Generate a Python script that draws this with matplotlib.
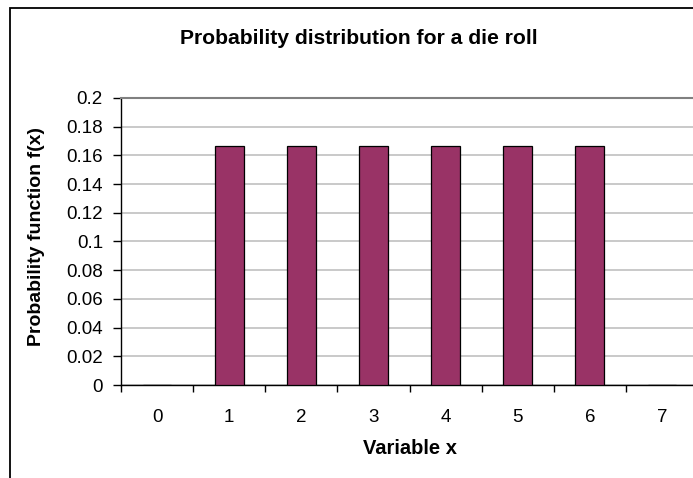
import numpy as np
from matplotlib import pyplot as plt
from matplotlib import patches

plt.rcParams['font.family'] = ['Liberation Sans', 'DejaVu Sans']

# die outcomes and their probabilities
outcomes = [0, 1, 2, 3, 4, 5, 6, 7]
probs = [0, 1/6, 1/6, 1/6, 1/6, 1/6, 1/6, 0]
yticks = [0, 0.02, 0.04, 0.06, 0.08, 0.1, 0.12, 0.14, 0.16, 0.18, 0.2]
ytick_labels = ['0', '0.02', '0.04', '0.06', '0.08', '0.1', '0.12', '0.14', '0.16', '0.18', '0.2']

W, H = 693, 478
fig = plt.figure(figsize=(W/100, H/100), dpi=100)
fig.set_facecolor('white')

# chart frame, runs off the right and bottom edges
fig.add_artist(patches.Rectangle((10/W, -0.1), 1.2, 1 - 8/H + 0.1, transform=fig.transFigure,
                                 fill=False, edgecolor='black', linewidth=1.3))

ax = fig.add_axes([121/W, 1 - 385/H, (698 - 121)/W, (385 - 98)/H])
ax.set_facecolor('white')

x = np.arange(len(outcomes))
ax.bar(x, probs, width=0.4, color='#993366', edgecolor='black', linewidth=0.9, zorder=3)

ax.set_xlim(-0.5, len(outcomes) - 0.5)
ax.set_ylim(0, 0.2)
ax.set_yticks(yticks)
ax.set_yticklabels(ytick_labels)
ax.yaxis.grid(True, color='#c0c0c0', linewidth=1.2, zorder=0)

# category labels centred, ticks between categories
ax.set_xticks(x)
ax.set_xticklabels([str(o) for o in outcomes])
ax.set_xticks(np.arange(-0.5, len(outcomes)), minor=True)
ax.tick_params(axis='x', which='major', length=0, pad=17, labelsize=13.5)
ax.tick_params(axis='x', which='minor', length=5, width=1, direction='out')
ax.tick_params(axis='y', length=6, width=1, direction='out', pad=7, labelsize=13.5)

ax.spines['right'].set_visible(False)
ax.spines['top'].set_color('#808080')
ax.spines['top'].set_linewidth(1.5)
ax.spines['left'].set_linewidth(1)
ax.spines['bottom'].set_linewidth(1)

fig.text(359/W, 1 - 39/H, 'Probability distribution for a die roll', ha='center', va='center',
         fontsize=15.2, fontweight='bold')
fig.text(410/W, 1 - 448/H, 'Variable x', ha='center', va='center', fontsize=14.5, fontweight='bold')
fig.text(37/W, 1 - 236/H, 'Probability function f(x)', ha='center', va='center', rotation=90,
         fontsize=14, fontweight='bold')

fig.savefig('out.png', dpi=100)
